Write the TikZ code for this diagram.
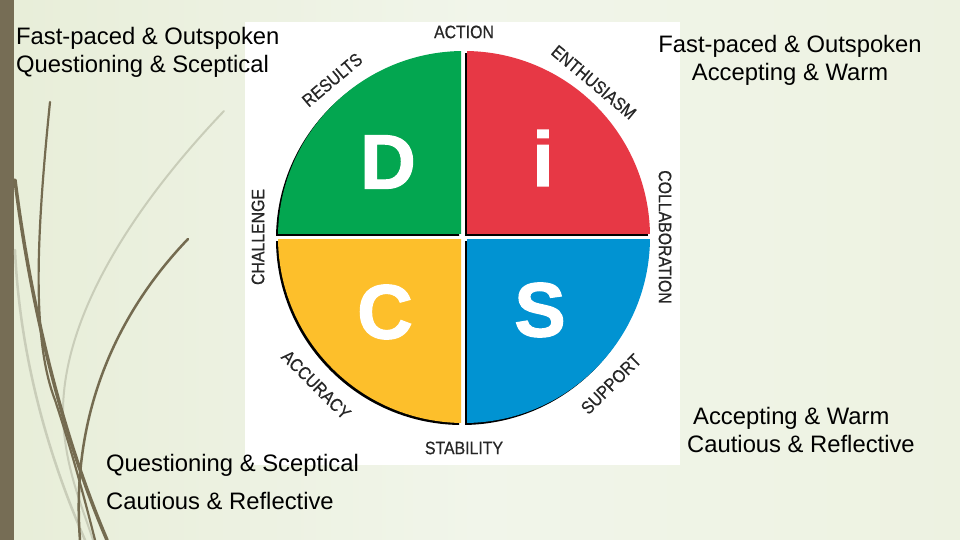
\documentclass[tikz,border=0pt]{standalone}
\usepackage{fontspec}
\setmainfont{Liberation Sans}
\newfontfamily\disclabelfont[FakeStretch=0.88, FakeBold=0.6]{Liberation Sans}
\newfontfamily\discletterfont[BoldFeatures={FakeBold=1.6}]{Liberation Sans}

\definecolor{discgreen}{HTML}{03A650}
\definecolor{discred}{HTML}{E73845}
\definecolor{discyellow}{HTML}{FDBF2B}
\definecolor{discblue}{HTML}{0193D2}
\definecolor{bgleft}{HTML}{DAE2C4}
\definecolor{bgleftmid}{HTML}{E8EED9}
\definecolor{bgmid}{HTML}{F1F5EA}
\definecolor{bgrightmid}{HTML}{EDF2E1}
\definecolor{bgright}{HTML}{D9E4BD}
\definecolor{stripcol}{HTML}{766D55}
\definecolor{bladedark}{HTML}{746B50}
\definecolor{bladelight}{HTML}{C9CDB9}

\pgfdeclarehorizontalshading{slidebg}{100bp}{color(0bp)=(bgleft); color(26bp)=(bgleftmid);
  color(50bp)=(bgmid); color(75bp)=(bgrightmid); color(100bp)=(bgright)}

\tikzset{
  blade/.style={draw=bladedark, line cap=round},
  paleblade/.style={draw=bladelight, line cap=round},
  quadlabel/.style={font=\disclabelfont\fontsize{18}{18}\selectfont, text=black!85, inner sep=0pt},
  bigletter/.style={font=\discletterfont\bfseries\fontsize{77}{77}\selectfont, text=white, inner sep=0pt},
  sidetext/.style={font=\fontsize{23.8}{28}\selectfont, inner sep=0pt}
}

\begin{document}
\begin{tikzpicture}[x=1pt, y=1pt]
  \useasboundingbox (0,0) rectangle (960,540);
  % slide background
  \shade[shading=slidebg] (0,0) rectangle (960,540);
  \fill[stripcol] (0,0) rectangle (14,540);

  % grass blades on the left
  \draw[paleblade, line width=2.5] (15,290) .. controls (20,180) and (50,80) .. (85,0);
  \draw[paleblade, line width=2] (224,429) .. controls (120,320) and (50,200) .. (65,100)
        .. controls (70,60) and (85,25) .. (93,0);
  \draw[blade, line width=2.2] (50,438) .. controls (36,300) and (32,200) .. (55,140)
        .. controls (70,95) and (85,40) .. (95,0);
  \draw[blade, line width=3.5] (15,360) .. controls (30,240) and (60,110) .. (107,0);
  \draw[blade, line width=2.5] (188,301) .. controls (120,230) and (70,130) .. (80,0);

  % picture card
  \fill[white] (245,75) rectangle (680,518);
  \coordinate (disc) at (464,303);

  % four quadrants with a small shadow
  \foreach \qcol/\qx/\qy in {discgreen/-1/1, discred/1/1, discyellow/-1/-1, discblue/1/-1} {
    \begin{scope}[shift={(-2,-2)}]
      \clip ({464+3*\qx},{303+3*\qy}) rectangle ({464+200*\qx},{303+200*\qy});
      \fill[black] (464,303) circle[radius=186];
    \end{scope}
    \begin{scope}
      \clip ({464+3*\qx},{303+3*\qy}) rectangle ({464+200*\qx},{303+200*\qy});
      \fill[\qcol] (464,303) circle[radius=186];
    \end{scope}
  }

  \node[bigletter] (letD) at (388,378) {D};
  \node[bigletter] (letI) at (543,382) {i};
  \node[bigletter] (letC) at (385,228) {C};
  \node[bigletter] (letS) at (540,230) {S};

  % words round the disc
  \node[quadlabel] (action) at ([shift={(90:205)}]disc) {ACTION};
  \node[quadlabel, rotate=-40] (enthusiasm) at ([shift={(50:202)}]disc) {ENTHUSIASM};
  \node[quadlabel, rotate=-90] (collab) at ([shift={(0:201)}]disc) {COLLABORATION};
  \node[quadlabel, rotate=45] (support) at ([shift={(315:208)}]disc) {SUPPORT};
  \node[quadlabel] (stability) at ([shift={(270:211)}]disc) {STABILITY};
  \node[quadlabel, rotate=-45] (accuracy) at ([shift={(225:209)}]disc) {ACCURACY};
  \node[quadlabel, rotate=90] (challenge) at ([shift={(180:206)}]disc) {CHALLENGE};
  \node[quadlabel, rotate=40] (results) at ([shift={(130:205)}]disc) {RESULTS};

  % corner descriptions
  \node[sidetext, anchor=north west, align=left] (topleft) at (16,513.3)
    {Fast-paced \& Outspoken\\Questioning \& Sceptical};
  \node[sidetext, anchor=north, align=center] (topright) at (790,505.3)
    {Fast-paced \& Outspoken\\Accepting \& Warm};
  \node[sidetext, anchor=north west, align=left] (botright) at (687,133.3)
    {\hspace*{6pt}Accepting \& Warm\\Cautious \& Reflective};
  \node[sidetext, anchor=north west, align=left] (botleft) at (106,85.5)
    {Questioning \& Sceptical\\[10pt]Cautious \& Reflective};
\end{tikzpicture}
\end{document}
